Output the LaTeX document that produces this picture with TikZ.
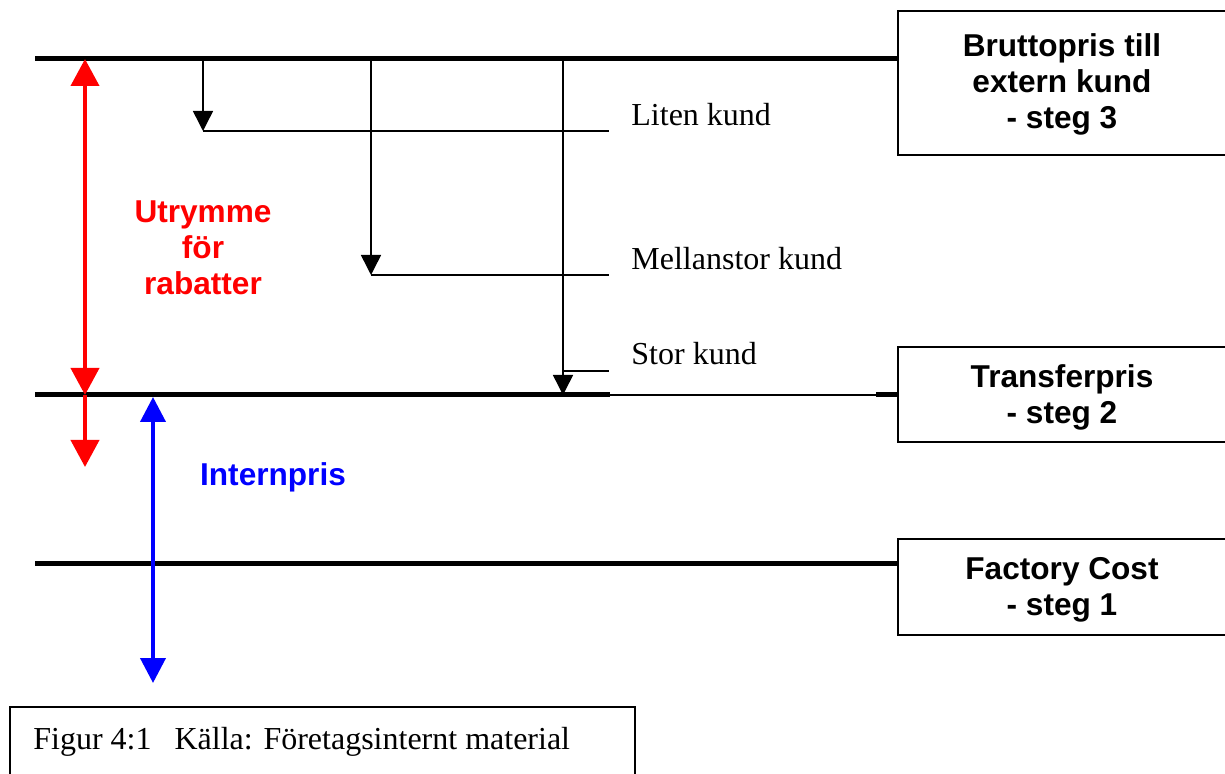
\documentclass[tikz,border=0pt]{standalone}
\usepackage{fontspec}
\setmainfont{Liberation Serif}
\setsansfont{Liberation Sans}
\usetikzlibrary{arrows.meta,positioning}

\tikzset{
  level/.style={line width=2.5pt},
  thinline/.style={line width=0.75pt},
  stepbox/.style={draw, line width=1pt, minimum width=164pt, inner sep=0pt},
  steptext/.style={align=center, inner sep=0pt,
    font=\sffamily\bfseries\fontsize{15.8}{18}\selectfont},
  kund/.style={anchor=west, inner sep=0pt, font=\fontsize{16}{19}\selectfont},
  drop/.style={thinline, -{Triangle[width=10pt,length=10pt]}},
  redarrow/.style={red, line width=2pt},
  bluearrow/.style={blue, line width=2pt},
}

\begin{document}
\begin{tikzpicture}[x=0.5pt, y=-0.5pt]
\useasboundingbox (0,0) rectangle (1225,774);

% boxes on the right
\node[stepbox, minimum height=72pt] (brutto) at (1062,83) {};
\node[stepbox, minimum height=47.5pt] (transfer) at (1062,394.5) {};
\node[stepbox, minimum height=48pt] (factory) at (1062,587) {};
\node[steptext] (bruttotext) at ([yshift=-0.5pt]brutto) {Bruttopris till\\extern kund\\- steg 3};
\node[steptext] (transfertext) at ([yshift=-1.5pt]transfer) {Transferpris\\- steg 2};
\node[steptext] (factorytext) at ([yshift=-1.5pt]factory) {Factory Cost\\- steg 1};

% price levels
\coordinate (top) at (35,59);
\coordinate (mid) at (35,395);
\coordinate (midA) at (610,395);
\coordinate (midB) at (876,395);
\coordinate (low) at (35,563);
\draw[level] (top) -- (top -| brutto.west);
\draw[level] (mid) -- (midA);
\draw[thinline] (midA) -- (midB);
\draw[level] (midB) -- (midB -| transfer.west);
\draw[level] (low) -- (low -| factory.west);

% customer discounts
\coordinate (litenA) at (203,59);
\coordinate (litenB) at (203,131);
\coordinate (litenC) at (609,131);
\coordinate (mellanA) at (371,59);
\coordinate (mellanB) at (371,275);
\coordinate (mellanC) at (609,275);
\coordinate (storA) at (563,59);
\coordinate (storB) at (563,395);
\coordinate (storC) at (563,371);
\coordinate (storD) at (609,371);
\draw[drop] (litenA) -- (litenB);
\draw[thinline] (litenB) -- (litenC);
\draw[drop] (mellanA) -- (mellanB);
\draw[thinline] (mellanB) -- (mellanC);
\draw[drop] (storA) -- (storB);
\draw[thinline] (storC) -- (storD);

\node[kund] (liten) at (631,115) {Liten kund};
\node[kund] (mellan) at (631,259) {Mellanstor kund};
\node[kund] (stor) at (631,354) {Stor kund};

% discount room
\coordinate (rA) at (85,59);
\coordinate (rB) at (85,395);
\coordinate (rC) at (85,467);
\draw[redarrow, {Triangle[width=14pt,length=13.5pt]}-{Triangle[width=14pt,length=13.5pt]}] (rA) -- (rB);
\draw[redarrow, -{Triangle[width=14pt,length=13.5pt]}] (rB) -- (rC);
\node[red, align=center, font=\sffamily\bfseries\fontsize{15.8}{18}\selectfont] (utrymme) at (203,248) {Utrymme\\för\\rabatter};

% internal price
\coordinate (bA) at (153,397);
\coordinate (bB) at (153,683);
\draw[bluearrow, {Triangle[width=12.5pt,length=12.5pt]}-{Triangle[width=12.5pt,length=12.5pt]}] (bA) -- (bB);
\node[blue, font=\sffamily\bfseries\fontsize{15.8}{19}\selectfont] (intern) at (273,477) {Internpris};

% caption
\draw[line width=1pt] (10,707) rectangle (635,800);
\node[kund] (caption) at (33,742) {Figur 4:1\hspace{11.5pt}Källa: Företagsinternt material};
\end{tikzpicture}
\end{document}
